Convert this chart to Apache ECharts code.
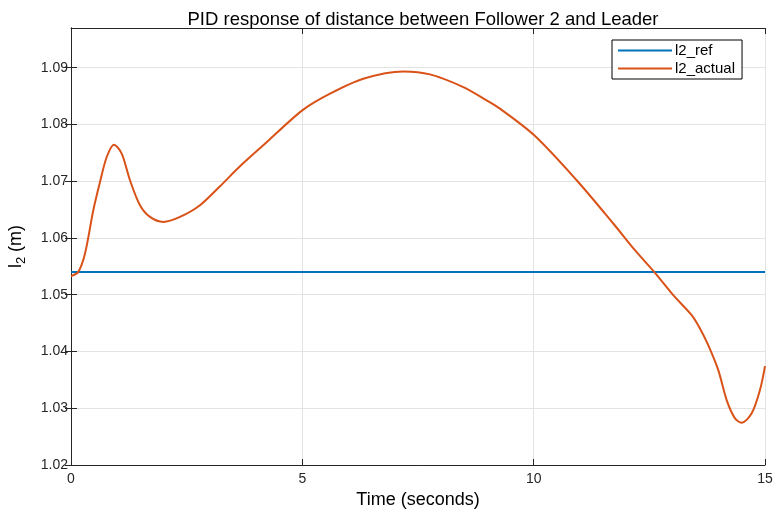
<!DOCTYPE html>
<html>
<head>
<meta charset="utf-8">
<script src="https://cdn.jsdelivr.net/npm/echarts@6/dist/echarts.min.js"></script>
<style>html,body{margin:0;padding:0;background:#fff;}#c{width:774px;height:510px;}</style>
</head>
<body>
<div id="c"></div>
<script>
const titleText = 'PID response of distance between Follower 2 and Leader';
const xTicks = [0, 5, 10, 15];
const yTicks = [1.02, 1.03, 1.04, 1.05, 1.06, 1.07, 1.08, 1.09];
const refValue = 1.054;
const timeRef = [0, 15];
const timeActual = [0, 0.158, 0.303, 0.482, 0.627, 0.772, 0.929, 1.096, 1.275, 1.491, 1.707, 1.995, 2.356, 2.788, 3.22, 3.652, 4.156, 4.999, 5.598, 6.317, 7.182, 7.759, 8.479, 8.984, 9.272, 10.013, 10.929, 11.72, 12.189, 12.622, 13.017, 13.415, 13.594, 13.773, 13.99, 14.171, 14.351, 14.495, 14.712, 14.891, 15.0];
const valActual = [1.05327, 1.05403, 1.05726, 1.06489, 1.06987, 1.07427, 1.07645, 1.07487, 1.07017, 1.06577, 1.06371, 1.06283, 1.06371, 1.06577, 1.06911, 1.07263, 1.07633, 1.08249, 1.08543, 1.08807, 1.08935, 1.08883, 1.08659, 1.08425, 1.08279, 1.07809, 1.07017, 1.06255, 1.05785, 1.05385, 1.04992, 1.0464, 1.04406, 1.04112, 1.03672, 1.03144, 1.02822, 1.02745, 1.0291, 1.0332, 1.03743];

const refData = timeRef.map(t => [t, refValue]);
const actData = timeActual.map((t, i) => [t, valActual[i]]);
const font = '"Liberation Sans", Arial, sans-serif';
const axisColor = '#262626';

const tickStyle = { show: true, inside: true, length: 6, lineStyle: { color: axisColor, width: 1 } };

const chart = echarts.init(document.getElementById('c'));
chart.setOption({
  animation: false,
  backgroundColor: '#fff',
  textStyle: { fontFamily: font },
  title: {
    text: titleText, left: 418, top: 5, textAlign: 'center',
    textStyle: { fontFamily: font, fontSize: 18.5, fontWeight: 'normal', color: '#000' }
  },
  grid: { left: 71, right: 9, top: 28, bottom: 45, containLabel: false, outerBoundsMode: 'none' },
  legend: {
    left: 612, top: 40, orient: 'vertical', itemWidth: 54, itemHeight: 2, itemGap: 3,
    padding: [3, 7, 3, 6], borderColor: '#000', borderWidth: 1, backgroundColor: '#fff',
    icon: 'rect',
    textStyle: { fontFamily: font, fontSize: 15, color: '#000', padding: [0, 0, 0, -2] },
    data: ['l2_ref', 'l2_actual']
  },
  xAxis: [{
    type: 'value', min: 0, max: 15, interval: 5,
    name: 'Time (seconds)', nameLocation: 'middle', nameGap: 24,
    nameTextStyle: { fontFamily: font, fontSize: 18, color: '#000' },
    axisLine: { show: true, lineStyle: { color: axisColor, width: 1 } },
    axisTick: Object.assign({ customValues: xTicks }, tickStyle),
    axisLabel: { fontFamily: font, fontSize: 14, color: axisColor, margin: 7, customValues: xTicks, formatter: v => String(v) },
    splitLine: { show: true, lineStyle: { color: '#e3e3e3', width: 1 } }
  }, {
    type: 'value', min: 0, max: 15, interval: 5, position: 'top',
    axisLine: { show: true, lineStyle: { color: axisColor, width: 1 } },
    axisTick: Object.assign({ customValues: xTicks }, tickStyle),
    axisLabel: { show: false }, splitLine: { show: false }
  }],
  yAxis: [{
    type: 'value', min: 1.02, max: 1.097, interval: 0.01,
    name: '{a|l}{b|2}{a| (m)}', nameLocation: 'middle', nameGap: 43, nameRotate: 90,
    nameTextStyle: {
      color: '#000', fontFamily: font,
      rich: {
        a: { fontSize: 18, fontFamily: font, color: '#000' },
        b: { fontSize: 13, fontFamily: font, color: '#000', padding: [11, 0, 0, 0] }
      }
    },
    axisLine: { show: true, lineStyle: { color: axisColor, width: 1 } },
    axisTick: Object.assign({ customValues: yTicks }, tickStyle),
    axisLabel: { fontFamily: font, fontSize: 14, color: axisColor, margin: 3, customValues: yTicks,
      formatter: v => v.toFixed(2) },
    splitLine: { show: true, lineStyle: { color: '#e3e3e3', width: 1 } }
  }, {
    type: 'value', min: 1.02, max: 1.097, interval: 0.01, position: 'right',
    axisLine: { show: true, lineStyle: { color: axisColor, width: 1 } },
    axisTick: Object.assign({ customValues: yTicks }, tickStyle),
    axisLabel: { show: false }, splitLine: { show: false }
  }],
  series: [{
    name: 'l2_ref', type: 'line', data: refData, showSymbol: false, symbol: 'none',
    lineStyle: { color: '#0072BD', width: 2 }, itemStyle: { color: '#0072BD' }
  }, {
    name: 'l2_actual', type: 'line', data: actData, showSymbol: false, symbol: 'none', smooth: 0.3,
    lineStyle: { color: '#D95319', width: 2 }, itemStyle: { color: '#D95319' }
  }]
});
</script>
</body>
</html>
